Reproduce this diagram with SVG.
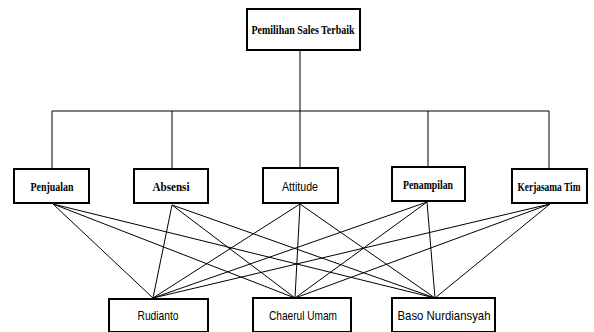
<svg xmlns="http://www.w3.org/2000/svg" width="594" height="332" viewBox="0 0 594 332">
<style>
.box{fill:#fff;stroke:#000;stroke-width:2}
.ln{stroke:#000;stroke-width:1;fill:none}
.ts{font-family:"Liberation Serif",serif;font-weight:bold;font-size:13.5px;fill:#000;text-anchor:middle}
.tb{font-family:"Liberation Sans",sans-serif;font-size:13px;fill:#000;text-anchor:middle}
</style>
<rect width="594" height="332" fill="#fff"/>
<g id="connectors">
<path class="ln" d="M300 50V111M52 111H549M52 111V169M172 111V169M300 111V168M428 111V167M549 111V169"/>
<path class="ln" d="M53 204L153 298M53 204L295 298M53 204L435 298"/>
<path class="ln" d="M172 205L153 298M172 205L295 298M172 205L435 298"/>
<path class="ln" d="M300 204L153 298M300 204L295 298M300 204L435 298"/>
<path class="ln" d="M427 202L153 298M427 202L295 298M427 202L435 298"/>
<path class="ln" d="M550 204L153 298M550 204L295 298M550 204L435 298"/>
</g>
<g id="root"><rect class="box" x="247" y="9" width="113" height="41"/><text class="ts" transform="translate(303,34) scale(0.72,1)" x="0" y="0" textLength="143" lengthAdjust="spacingAndGlyphs">Pemilihan Sales Terbaik</text></g>
<g id="penjualan"><rect class="box" x="14" y="169" width="75" height="34"/><text class="ts" x="52" y="191" textLength="43" lengthAdjust="spacingAndGlyphs">Penjualan</text></g>
<g id="absensi"><rect class="box" x="134" y="169" width="74" height="34"/><text class="ts" x="171" y="191" textLength="37" lengthAdjust="spacingAndGlyphs">Absensi</text></g>
<g id="attitude"><rect class="box" x="263" y="168" width="75" height="35"/><text class="tb" x="300" y="191" textLength="36" lengthAdjust="spacingAndGlyphs">Attitude</text></g>
<g id="penampilan"><rect class="box" x="392" y="167" width="73" height="34"/><text class="ts" x="428" y="189" textLength="50" lengthAdjust="spacingAndGlyphs">Penampilan</text></g>
<g id="kerjasama"><rect class="box" x="512" y="169" width="75" height="34"/><text class="ts" transform="translate(549,191) scale(0.74,1)" x="0" y="0" textLength="85" lengthAdjust="spacingAndGlyphs">Kerjasama Tim</text></g>
<g id="rudianto"><rect class="box" x="109" y="299" width="99" height="33"/><text class="tb" x="158" y="320" textLength="41" lengthAdjust="spacingAndGlyphs">Rudianto</text></g>
<g id="chaerul"><rect class="box" x="253" y="298" width="98" height="34"/><text class="tb" x="303" y="320" textLength="68" lengthAdjust="spacingAndGlyphs">Chaerul Umam</text></g>
<g id="baso"><rect class="box" x="392" y="298" width="103" height="34"/><text class="tb" x="444" y="320" textLength="93" lengthAdjust="spacingAndGlyphs">Baso Nurdiansyah</text></g>
</svg>
